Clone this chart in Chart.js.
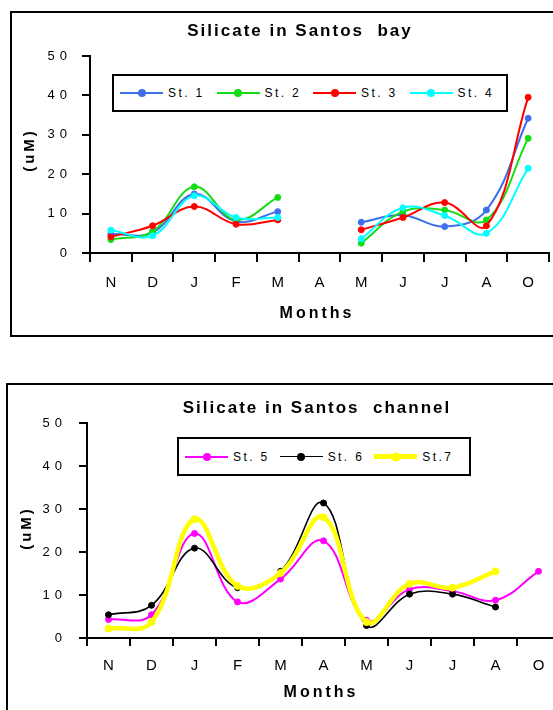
<!DOCTYPE html>
<html>
<head>
<meta charset="utf-8">
<script src="https://cdn.jsdelivr.net/npm/chart.js@4.4.1/dist/chart.umd.min.js"></script>
<style>
body { margin:0; width:553px; height:710px; overflow:hidden; background:#fff; position:relative;
       font-family: Arial, "Liberation Sans", sans-serif; color:#000; }
.frame { position:absolute; border:2px solid #000; box-sizing:border-box; }
canvas { position:absolute; left:0; }
.title { position:absolute; width:400px; text-align:center; font-weight:bold; font-size:17px;
         letter-spacing:2px; white-space:pre; line-height:20px; }
.xtitle { position:absolute; width:200px; text-align:center; font-weight:bold; font-size:16px;
          letter-spacing:3px; line-height:20px; }
.ytitle { position:absolute; width:100px; text-align:center; font-weight:bold; font-size:15px;
          letter-spacing:3px; line-height:18px; transform:rotate(-90deg); }
.legend { position:absolute; border:2px solid #000; box-sizing:border-box; display:flex;
          align-items:center; padding-left:6px; background:#fff; }
.item { display:flex; align-items:center; width:97px; font-size:12px; letter-spacing:2.4px; white-space:pre; }
.swatch { position:relative; width:43px; margin-right:5px; }
.dot { position:absolute; left:50%; top:50%; border-radius:50%; transform:translate(-50%,-50%); }
</style>
</head>
<body>
<div class="frame" style="left:10px; top:11px; width:620px; height:326px;"></div>
<div class="frame" style="left:6px; top:383px; width:620px; height:360px;"></div>

<canvas id="bayChart" width="600" height="340" style="top:0"></canvas>
<canvas id="channelChart" width="600" height="330" style="top:380px"></canvas>

<div class="title" style="left:100px; top:21px;">Silicate in Santos  bay</div>
<div class="xtitle" style="left:217px; top:303px;">Months</div>
<div class="ytitle" style="left:-21px; top:141px;">(uM)</div>
<div class="legend" id="bayLegend" style="left:112px; top:74px; width:396px; height:38px;"></div>

<div class="title" style="left:117px; top:398px;">Silicate in Santos  channel</div>
<div class="xtitle" style="left:221px; top:682px;">Months</div>
<div class="ytitle" style="left:-24px; top:519px;">(uM)</div>
<div class="legend" id="channelLegend" style="left:177px; top:437px; width:294px; height:39px;"></div>

<script>
// Months on the x axis
const months = ['N', 'D', 'J', 'F', 'M', 'A', 'M', 'J', 'J', 'A', 'O'];
const yTickValues = [0, 10, 20, 30, 40, 50];

// Santos bay stations (no sampling in April)
const bayNames = ['St. 1', 'St. 2', 'St. 3', 'St. 4'];
const bayColors = ['#3D6FEA', '#14DC14', '#FF0000', '#00FFFF'];
const st1 = [4.8, 5.2, 15.0, 8.0, 10.5, null, 7.8, 9.6, 6.7, 10.9, 34.2];
const st2 = [3.4, 5.5, 16.8, 8.4, 14.1, null, 2.5, 10.5, 10.9, 8.4, 29.1];
const st3 = [4.1, 6.9, 11.8, 7.3, 8.4, null, 5.9, 9.0, 12.8, 6.9, 39.5];
const st4 = [5.8, 4.4, 14.5, 9.0, 9.0, null, 3.6, 11.5, 9.5, 5.0, 21.5];

// Santos channel stations
const channelNames = ['St. 5', 'St. 6', 'St.7'];
const channelColors = ['#FF00FF', '#000000', '#FFFF00'];
const st5 = [4.3, 5.4, 24.3, 8.4, 13.7, 22.6, 4.1, 11.3, 10.9, 8.8, 15.5];
const st6 = [5.4, 7.6, 20.9, 11.7, 15.5, 31.4, 2.9, 10.2, 10.2, 7.2, null];
const st7 = [2.2, 3.7, 27.6, 12.1, 15.1, 28.1, 3.7, 12.6, 11.7, 15.5, null];

const FONT = 'Arial, "Liberation Sans", sans-serif';

// canvas text gets the same wide spacing as the original
const spacing = {
    id: 'spacing',
    beforeDraw(chart) { chart.ctx.letterSpacing = '5px'; }
};

function makeChart(id, series, names, colors, widths, radii, box) {
    const ctx = document.getElementById(id);
    const n = series.length;
    return new Chart(ctx, {
        type: 'line',
        data: {
            labels: months,
            datasets: series.map((data, i) => ({
                label: names[i],
                data: data,
                borderColor: colors[i],
                backgroundColor: colors[i],
                borderWidth: widths[i],
                pointRadius: radii[i],
                pointBorderWidth: 1,
                pointHoverRadius: radii[i],
                tension: 0.4,
                spanGaps: false,
                fill: false,
                order: n - i
            }))
        },
        options: {
            responsive: false,
            animation: false,
            devicePixelRatio: 1,
            layout: {
                autoPadding: false,
                padding: { left: 0, top: box.top, right: ctx.width - box.right, bottom: 0 }
            },
            plugins: { legend: { display: false }, title: { display: false }, tooltip: { enabled: false } },
            scales: {
                x: {
                    type: 'category',
                    offset: true,
                    grid: { offset: true, drawOnChartArea: false, tickLength: box.xTick, lineWidth: 2, color: '#000' },
                    border: { color: '#000', width: 2 },
                    ticks: { font: { family: FONT, size: 15 }, color: '#000', padding: box.xPad,
                             labelOffset: 2.5, maxRotation: 0, autoSkip: false },
                    afterFit: s => { s.height = ctx.height - box.bottom; }
                },
                y: {
                    min: 0,
                    max: 50,
                    afterBuildTicks: s => { s.ticks = yTickValues.map(v => ({ value: v })); },
                    grid: { drawOnChartArea: false, tickLength: 8, lineWidth: 2, color: '#000' },
                    border: { color: '#000', width: 2 },
                    ticks: { font: { family: FONT, size: 13 }, color: '#000', padding: box.yPad },
                    afterFit: s => { s.width = box.left; }
                }
            }
        },
        plugins: [spacing]
    });
}

function buildLegend(id, names, colors, widths, radii) {
    const el = document.getElementById(id);
    names.forEach((name, i) => {
        const item = document.createElement('div');
        item.className = 'item';
        const sw = document.createElement('span');
        sw.className = 'swatch';
        sw.style.height = widths[i] + 'px';
        sw.style.background = colors[i];
        const dot = document.createElement('span');
        dot.className = 'dot';
        dot.style.width = dot.style.height = (radii[i] * 2 + 2) + 'px';
        dot.style.background = colors[i];
        sw.appendChild(dot);
        const txt = document.createElement('span');
        txt.textContent = name;
        item.appendChild(sw);
        item.appendChild(txt);
        el.appendChild(item);
    });
}

const bayWidths = [2, 2, 2, 2];
const bayRadii = [3, 3, 3, 3];
const channelWidths = [2, 1.6, 4.5];
const channelRadii = [3, 3, 3.5];

makeChart('bayChart', [st1, st2, st3, st4], bayNames, bayColors, bayWidths, bayRadii,
    { left: 90, right: 549, top: 56, bottom: 253, xTick: 9, xPad: 12, yPad: 10 });
makeChart('channelChart', [st5, st6, st7], channelNames, channelColors, channelWidths, channelRadii,
    { left: 87, right: 560, top: 43, bottom: 258, xTick: 8, xPad: 11, yPad: 12 });

buildLegend('bayLegend', bayNames, bayColors, bayWidths, bayRadii);
buildLegend('channelLegend', channelNames, channelColors, channelWidths, channelRadii);
</script>
</body>
</html>
